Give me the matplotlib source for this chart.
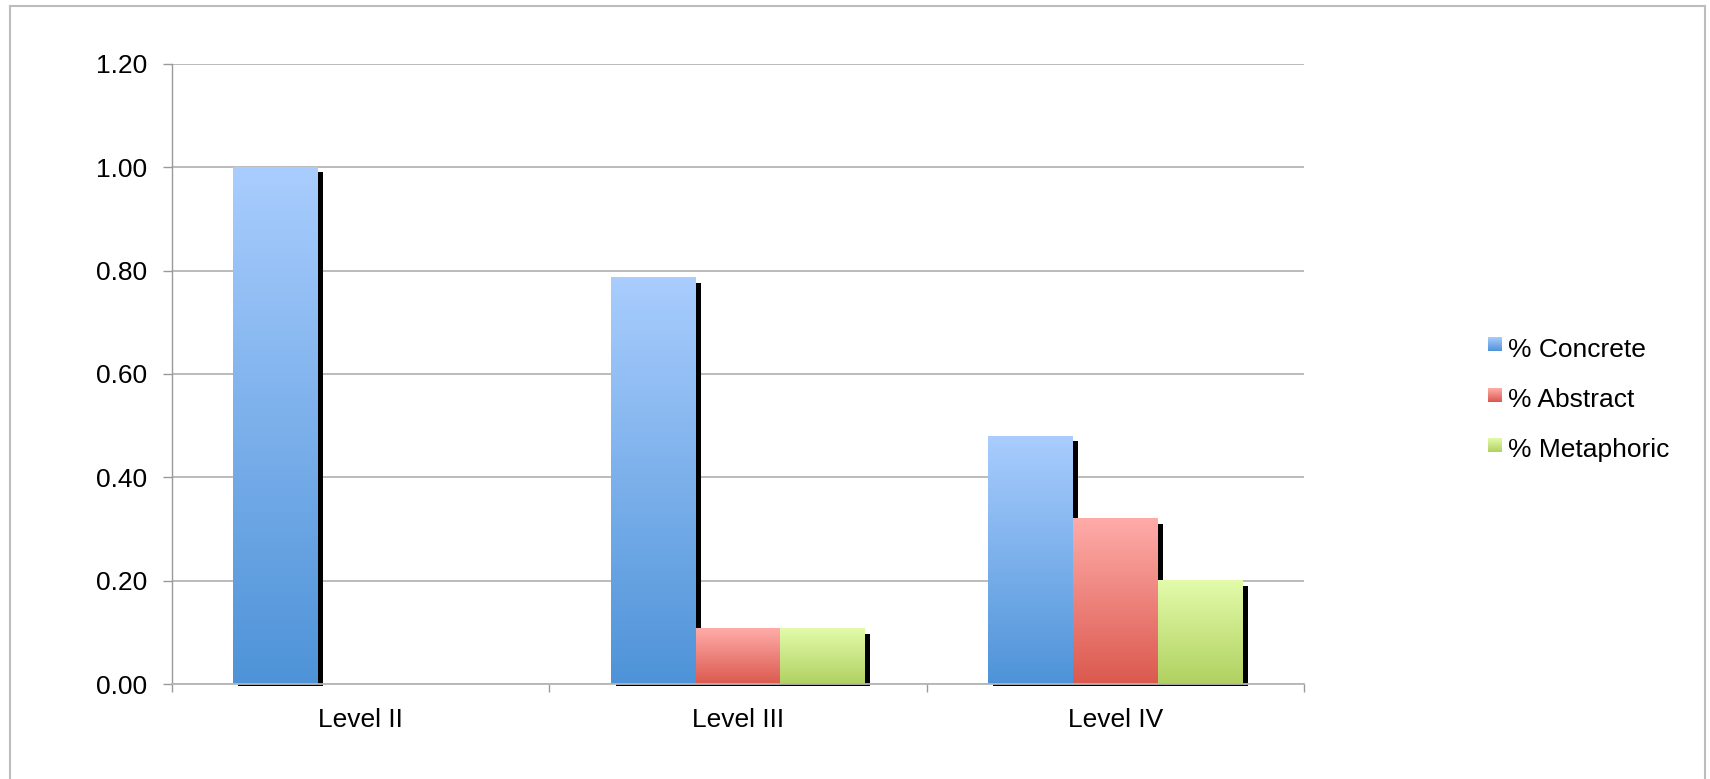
import numpy as np
import matplotlib
matplotlib.use("Agg")
import matplotlib.pyplot as plt
from matplotlib.colors import LinearSegmentedColormap
from matplotlib.lines import Line2D

plt.rcParams['font.family'] = ['Liberation Sans', 'DejaVu Sans']

# Data
categories = ["Level II", "Level III", "Level IV"]
series_names = ["% Concrete", "% Abstract", "% Metaphoric"]
concrete = [1.00, 0.786, 0.48]
abstract = [0.0, 0.107, 0.32]
metaphoric = [0.0, 0.107, 0.20]
yticks = [0.0, 0.2, 0.4, 0.6, 0.8, 1.0, 1.2]

# (top colour, bottom colour) of each series' vertical gradient
series_colors = [("#A9CDFE", "#4E93D8"),
                 ("#FFACA9", "#DB594E"),
                 ("#E3FBAA", "#B0D161")]

W, H, DPI = 1710, 779, 100
fig = plt.figure(figsize=(W / DPI, H / DPI), dpi=DPI)
fig.patch.set_facecolor("white")

left, right, top, bottom = 172, 1304, 64, 684
ax = fig.add_axes([left / W, 1 - bottom / H, (right - left) / W, (bottom - top) / H])

ax.set_xlim(-0.5, len(categories) - 0.5)
ax.set_ylim(0, 1.2)

# pixel -> data conversion for the drop shadows
px_x = (len(categories)) / ax.bbox.width
px_y = 1.2 / ax.bbox.height

bar_w = 0.225
offsets = [-bar_w, 0.0, bar_w]
all_series = [concrete, abstract, metaphoric]

grad = np.linspace(0, 1, 256).reshape(-1, 1)
for s, (vals, (ctop, cbot)) in enumerate(zip(all_series, series_colors)):
    cmap = LinearSegmentedColormap.from_list(f"g{s}", [cbot, ctop])
    for i, v in enumerate(vals):
        if v <= 0:
            continue
        xc = i + offsets[s]
        x0, x1 = xc - bar_w / 2, xc + bar_w / 2
        # drop shadow
        ax.bar(xc + 5 * px_x, v - 5 * px_y + 2 * px_y, width=bar_w,
               bottom=-2 * px_y, color="black", zorder=2, clip_on=False,
               linewidth=0)
        # gradient body
        ax.imshow(grad, extent=[x0, x1, 0, v], origin="lower", cmap=cmap,
                  aspect="auto", zorder=3, interpolation="bilinear")

ax.set_xlim(-0.5, len(categories) - 0.5)
ax.set_ylim(0, 1.2)
ax.set_aspect("auto")

# grid
ax.set_yticks(yticks)
ax.set_yticklabels([f"{t:.2f}" for t in yticks])
ax.yaxis.grid(True, color="#B5B5B5", linewidth=1.3, zorder=1)
ax.set_axisbelow(True)

for sp in ["top", "right"]:
    ax.spines[sp].set_visible(False)
ax.spines["left"].set_color("#999999")
ax.spines["left"].set_linewidth(1.0)
ax.spines["bottom"].set_color("#B5B5B5")
ax.spines["bottom"].set_linewidth(1.3)
ax.spines["bottom"].set_zorder(4)

ax.tick_params(axis="y", length=6.5, width=1.0, color="#999999",
               pad=11.5, labelsize=19, labelcolor="black")

# category boundaries as major ticks, names on minor ticks
ax.set_xticks(np.arange(-0.5, len(categories), 1.0))
ax.set_xticklabels([])
ax.set_xticks(np.arange(len(categories)), minor=True)
ax.set_xticklabels(categories, minor=True)
ax.tick_params(axis="x", which="major", length=6, width=1.0, color="#999999")
ax.tick_params(axis="x", which="minor", length=0, pad=17, labelsize=19,
               labelcolor="black")

# legend
legend_rows = [(344, 357), (395, 407), (445, 457)]
for name, (ctop, cbot), (sq_c, base) in zip(series_names, series_colors, legend_rows):
    sq = fig.add_axes([1488 / W, 1 - (sq_c + 7) / H, 14 / W, 14 / H])
    sq.imshow(grad, origin="lower", aspect="auto",
              cmap=LinearSegmentedColormap.from_list(name, [cbot, ctop]),
              extent=[0, 1, 0, 1])
    sq.set_axis_off()
    fig.text(1508 / W, 1 - base / H, name, fontsize=19, va="baseline",
             ha="left", color="black")

# outer frame
frame_c = "#BDBDBD"
fig.add_artist(Line2D([10 / W, 1705 / W], [1 - 6 / H, 1 - 6 / H],
                      color=frame_c, linewidth=1.5, transform=fig.transFigure))
fig.add_artist(Line2D([10 / W, 10 / W], [1 - 6 / H, 0], color=frame_c,
                      linewidth=1.5, transform=fig.transFigure))
fig.add_artist(Line2D([1705 / W, 1705 / W], [1 - 6 / H, 0], color=frame_c,
                      linewidth=1.5, transform=fig.transFigure))

fig.savefig("out.png", dpi=DPI)
